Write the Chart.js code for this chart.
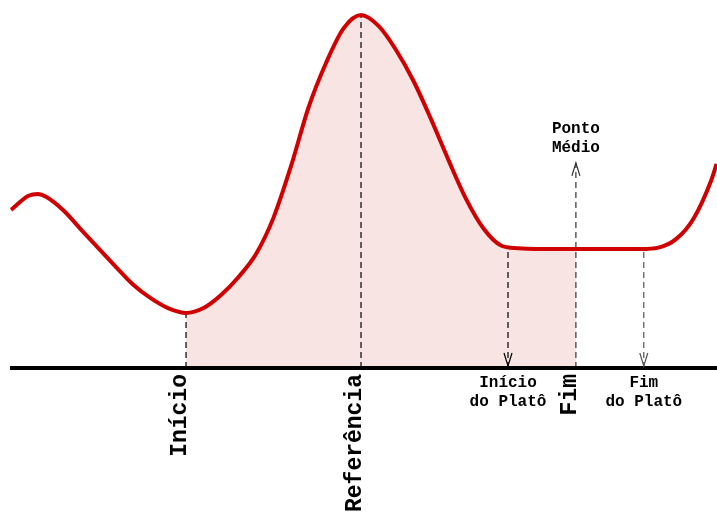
<!DOCTYPE html>
<html>
<head>
<meta charset="utf-8">
<script src="https://cdn.jsdelivr.net/npm/chart.js@4/dist/chart.umd.min.js"></script>
<style>
  html, body { margin: 0; padding: 0; background: #fff; }
  #wrap { width: 717px; height: 514px; }
</style>
</head>
<body>
<div id="wrap"><canvas id="grafico"></canvas></div>
<script>
// --- dados (x em unidades de tempo, y em resposta relativa) ---
const curvaX = [0, 2.5, 3.85, 5, 7.5, 10, 12.5, 15, 17.5, 20, 22.5, 25, 27.5, 30, 32.5, 35, 37.5, 40, 42.5, 45, 47.5, 50,
                52.5, 55, 57.5, 60, 62.5, 65, 67.5, 70, 72.5, 75, 77.5, 80, 80.7, 82.5, 85, 87.5, 90,
                92.5, 95, 97.5, 100, 100.8];
const curvaY = [44.8, 48.8, 49.3, 48.5, 44.6, 39.2, 33.9, 28.6, 23.5, 19.7, 16.9, 15.6, 17.0, 20.7, 25.8, 32.3, 42.6, 57.2, 73.8, 86.4, 96.2, 100,
                96.9, 90.1, 81.3, 70.5, 58.9, 47.9, 39.5, 34.7, 33.9, 33.7, 33.7, 33.7, 33.7, 33.7, 33.7, 33.7, 33.7,
                34.1, 36.5, 42.3, 53.0, 57.8];

// área sombreada: do início até o ponto médio
const areaInicio = 25;
const areaFim = 80.7;

// marcadores verticais
const marcadorX = [25, 50, 71, 80.7, 90.4];
const marcadorTopo = [15.6, 100, 33.7, 58.1, 33.7];
const marcadorSeta = ['none', 'none', 'down', 'up', 'down'];
const marcadorCor = ['#000', '#000', '#000', '#333', '#555'];

// rótulos
const rotulosVerticais = ['Início', 'Referência', 'Fim'];
const rotulosVerticaisX = [25, 50, 80.7];
const rotulosHorizontais = [['Início', 'do Platô'], ['Ponto', 'Médio'], ['Fim', 'do Platô']];
const rotulosHorizontaisX = [71, 80.7, 90.4];

const vermelho = '#d00000';
const rosa = '#f9e4e4';

const curva = curvaX.map((x, i) => ({ x: x, y: curvaY[i] }));
const area = curva.filter(p => p.x >= areaInicio && p.x <= areaFim);

const linhasMarcadores = marcadorX.map((x, i) => ({
    data: [{ x: x, y: 0 }, { x: x, y: marcadorTopo[i] }],
    borderColor: marcadorCor[i],
    borderWidth: 1.2,
    borderDash: [6, 4],
    pointRadius: 0,
    tension: 0,
    fill: false,
    order: 2
}));

const pluginAnotacoes = {
    id: 'anotacoes',
    afterDatasetsDraw(chart) {
        const ctx = chart.ctx;
        const sx = chart.scales.x;
        const sy = chart.scales.y;
        const base = sy.getPixelForValue(0);

        // setas abertas
        ctx.save();
        ctx.lineWidth = 1.2;
        marcadorX.forEach((x, i) => {
            if (marcadorSeta[i] === 'none') return;
            const px = sx.getPixelForValue(x);
            ctx.strokeStyle = marcadorCor[i];
            ctx.beginPath();
            if (marcadorSeta[i] === 'down') {
                const tip = base - 2;
                ctx.moveTo(px - 4, tip - 13);
                ctx.lineTo(px, tip);
                ctx.lineTo(px + 4, tip - 13);
            } else {
                const tip = sy.getPixelForValue(marcadorTopo[i]);
                ctx.moveTo(px - 4, tip + 13);
                ctx.lineTo(px, tip);
                ctx.lineTo(px + 4, tip + 13);
            }
            ctx.stroke();
        });
        ctx.restore();

        // rótulos verticais
        ctx.save();
        ctx.fillStyle = '#000';
        ctx.font = 'bold 23px "Liberation Mono", "Courier New", monospace';
        ctx.textAlign = 'right';
        ctx.textBaseline = 'middle';
        rotulosVerticais.forEach((txt, i) => {
            const px = sx.getPixelForValue(rotulosVerticaisX[i]) - 6;
            ctx.save();
            ctx.translate(px, base + 6);
            ctx.rotate(-Math.PI / 2);
            ctx.fillText(txt, 0, 0);
            ctx.restore();
        });
        ctx.restore();

        // rótulos horizontais
        ctx.save();
        ctx.fillStyle = '#000';
        ctx.font = 'bold 16px "Liberation Mono", "Courier New", monospace';
        ctx.textAlign = 'center';
        ctx.textBaseline = 'middle';
        rotulosHorizontais.forEach((linhas, i) => {
            const px = sx.getPixelForValue(rotulosHorizontaisX[i]);
            let y0;
            if (linhas[0] === 'Ponto') {
                y0 = sy.getPixelForValue(marcadorTopo[3]) - 34;
            } else {
                y0 = base + 15;
            }
            linhas.forEach((l, k) => ctx.fillText(l, px, y0 + k * 19));
        });
        ctx.restore();
    }
};

new Chart(document.getElementById('grafico'), {
    type: 'line',
    data: {
        datasets: [
            {
                data: curva,
                borderColor: vermelho,
                borderWidth: 4,
                pointRadius: 0,
                cubicInterpolationMode: 'monotone',
                fill: false,
                order: 0
            },
            {
                data: [{ x: -0.15, y: 0 }, { x: 100.86, y: 0 }],
                borderColor: '#000',
                borderWidth: 4,
                pointRadius: 0,
                fill: false,
                order: 1
            },
            ...linhasMarcadores,
            {
                data: area,
                borderWidth: 0,
                borderColor: 'rgba(0,0,0,0)',
                backgroundColor: rosa,
                pointRadius: 0,
                cubicInterpolationMode: 'monotone',
                fill: 'origin',
                order: 3
            }
        ]
    },
    options: {
        responsive: true,
        maintainAspectRatio: false,
        animation: false,
        layout: { padding: { left: 10, right: 0, top: 0, bottom: 0 } },
        scales: {
            x: { type: 'linear', min: -0.15, max: 100.86, display: false },
            y: { type: 'linear', min: -41.36, max: 104.25, display: false }
        },
        plugins: {
            legend: { display: false },
            tooltip: { enabled: false }
        }
    },
    plugins: [pluginAnotacoes]
});
</script>
</body>
</html>
